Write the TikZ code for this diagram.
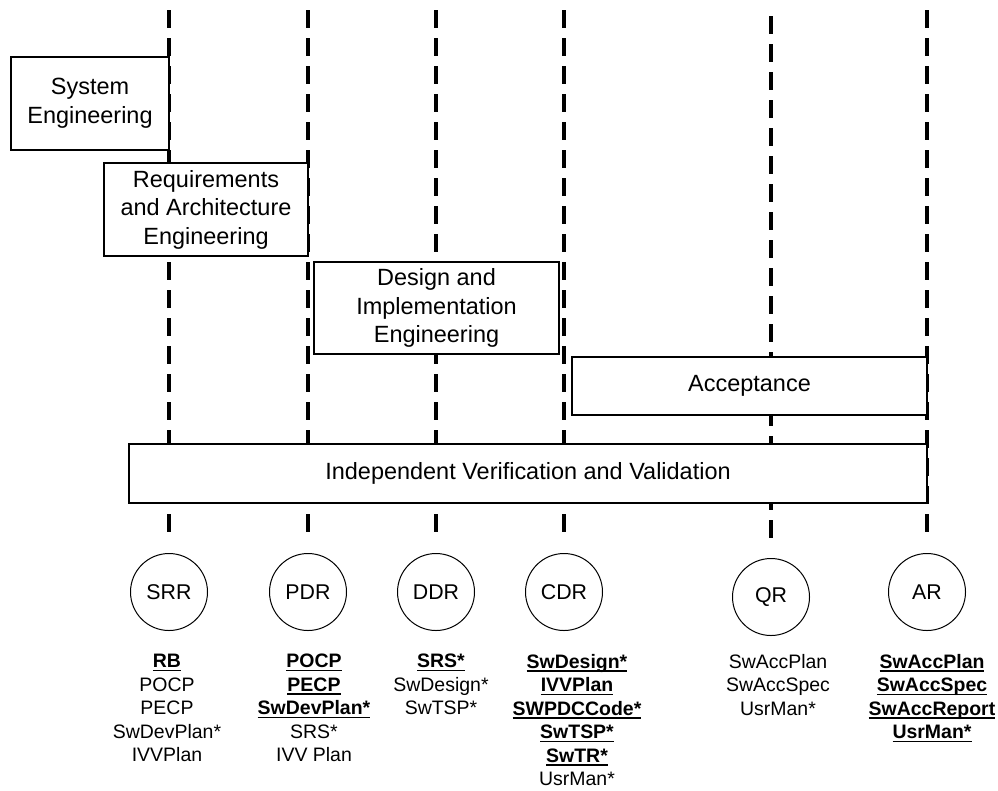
\documentclass[tikz,border=0pt]{standalone}
\usepackage{fontspec}
\setmainfont{Liberation Sans}
\usepackage{tikz}
\usetikzlibrary{positioning}
\tikzset{
        phase/.style={
                draw=black,
                line width=1.5pt,
                fill=white,
                align=center,
                inner sep=0pt,
                font=\fontsize{17.6pt}{21.4pt}\selectfont
            },
        review/.style={
                circle,
                draw=black,
                line width=0.75pt,
                fill=white,
                minimum size=57.75pt,
                inner sep=0pt,
                font=\fontsize{16pt}{19pt}\selectfont
            },
        docs/.style={
                anchor=north,
                align=center,
                inner sep=0pt,
                font=\fontsize{14.6pt}{17.6pt}\selectfont
            },
        gate/.style={
                line width=2.4pt,
                dash pattern=on 13.5pt off 7.5pt,
                shorten >=9.75pt
            },
}
\newsavebox{\delivbox}
\newcommand{\deliv}[1]{\sbox{\delivbox}{\textbf{#1}}\mbox{\rlap{\usebox{\delivbox}}\rule[-2.6pt]{\wd\delivbox}{1.2pt}}}

\begin{document}
\begin{tikzpicture}[x=0.75pt, y=-0.75pt]
  \useasboundingbox (0,0) rectangle (998,790);
  % Reviews
  \node[review] (srr) at (169,592) {SRR};
  \node[review] (pdr) at (308,592) {PDR};
  \node[review] (ddr) at (436,592) {DDR};
  \node[review] (cdr) at (564,592) {CDR};
  \node[review] (qr)  at (771,597) {QR};
  \node[review] (ar)  at (927,592) {AR};
  % Milestone lines
  \coordinate (srrtop) at (169,10);
  \coordinate (pdrtop) at (308,10);
  \coordinate (ddrtop) at (436,10);
  \coordinate (cdrtop) at (564,10);
  \coordinate (qrtop)  at (771,16);
  \coordinate (artop)  at (927,10);
  \draw[gate] (srrtop) -- (srr);
  \draw[gate] (pdrtop) -- (pdr);
  \draw[gate] (ddrtop) -- (ddr);
  \draw[gate] (cdrtop) -- (cdr);
  \draw[gate] (qrtop)  -- (qr);
  \draw[gate] (artop)  -- (ar);
  % Phases
  \node[phase, minimum width=118.5pt, minimum height=69.75pt] (syseng) at (90,103.5)
      {System\\Engineering};
  \node[phase, minimum width=153pt, minimum height=69.75pt] (reqarch) at (206,209.5)
      {Requirements\\and Architecture\\Engineering};
  \node[phase, minimum width=183.75pt, minimum height=69pt] (desimpl) at (436.5,308)
      {Design and\\Implementation\\Engineering};
  \node[phase, minimum width=266.25pt, minimum height=43.5pt] (accept) at (749.5,386)
      {Acceptance};
  \node[phase, minimum width=598.5pt, minimum height=44.25pt] (ivv) at (528,473.5)
      {Independent Verification and Validation};
  % Documents
  \node[docs] (srrdocs) at (167,654)
      {\deliv{RB}\\POCP\\PECP\\SwDevPlan*\\IVVPlan};
  \node[docs] (pdrdocs) at (314,654)
      {\deliv{POCP}\\\deliv{PECP}\\\deliv{SwDevPlan*}\\SRS*\\IVV Plan};
  \node[docs] (ddrdocs) at (441,654)
      {\deliv{SRS*}\\SwDesign*\\SwTSP*};
  \node[docs] (cdrdocs) at (577,654)
      {\deliv{SwDesign*}\\\deliv{IVVPlan}\\\deliv{SWPDCCode*}\\\deliv{SwTSP*}\\\deliv{SwTR*}\\UsrMan*};
  \node[docs] (qrdocs) at (778,654)
      {SwAccPlan\\SwAccSpec\\UsrMan*};
  \node[docs] (ardocs) at (932,654)
      {\deliv{SwAccPlan}\\\deliv{SwAccSpec}\\\deliv{SwAccReport}\\\deliv{UsrMan*}};
\end{tikzpicture}
\end{document}
